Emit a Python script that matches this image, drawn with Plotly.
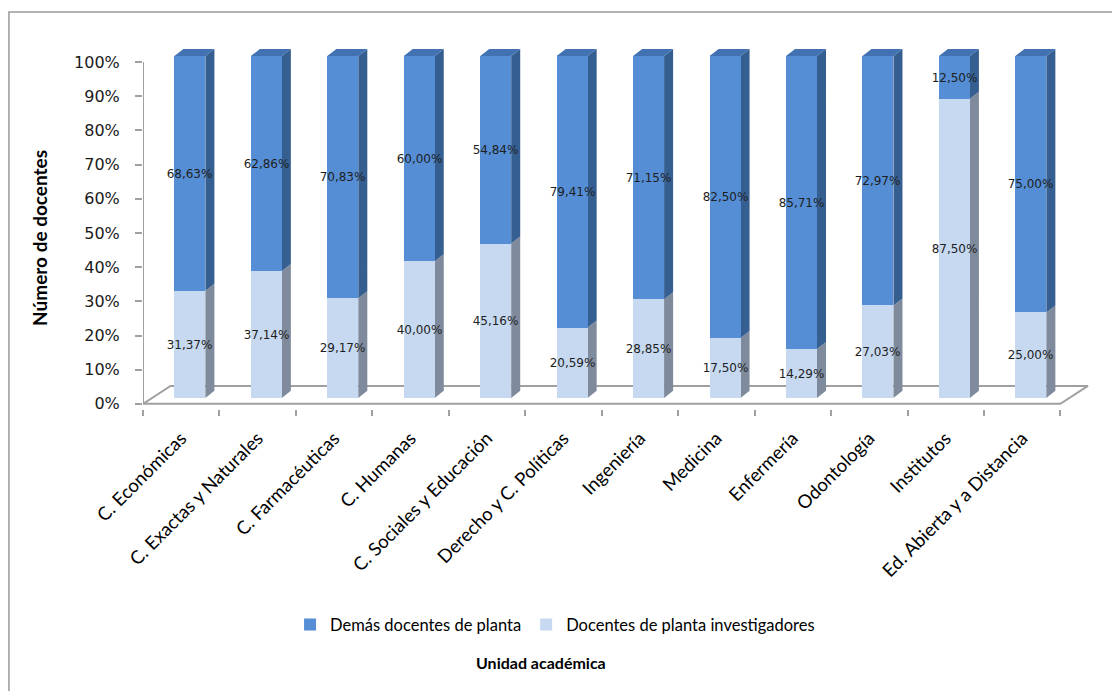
import plotly.graph_objects as go

# Datos: porcentaje de docentes de planta por unidad académica
unidades = [
    "C. Económicas", "C. Exactas y Naturales", "C. Farmacéuticas", "C. Humanas",
    "C. Sociales y Educación", "Derecho y C. Políticas", "Ingeniería", "Medicina",
    "Enfermería", "Odontología", "Institutos", "Ed. Abierta y a Distancia",
]
investigadores = [31.37, 37.14, 29.17, 40.00, 45.16, 20.59, 28.85, 17.50, 14.29, 27.03, 87.50, 25.00]
demas = [68.63, 62.86, 70.83, 60.00, 54.84, 79.41, 71.15, 82.50, 85.71, 72.97, 12.50, 75.00]
y_ticks = [0, 10, 20, 30, 40, 50, 60, 70, 80, 90, 100]
y_ticktext = [f"{v}%" for v in y_ticks]

# Geometría del efecto 3D (unidades de los ejes)
BAR_W = 0.405
BAR_OFF = -0.089
DEPTH_X = 0.118
DEPTH_Y = 2.05
FLOOR_X = 0.36
FLOOR_Y = 5.26
PX_PER_UNIT = 3.42
BAR_LIFT = 6 / PX_PER_UNIT  # las barras se apoyan un poco detrás del eje frontal

C_DARK, C_DARK_SIDE, C_DARK_TOP = "#558ED5", "#365F91", "#4272B2"
C_LIGHT, C_LIGHT_SIDE = "#C6D9F1", "#7F8B9C"
AXIS_GRAY = "#A0A0A0"

idx = list(range(len(unidades)))
n = len(unidades)


def fmt(v):
    return f"{v:.2f}".replace(".", ",") + "%"


def side_faces(lows, highs):
    xs, ys = [], []
    for i, lo, hi in zip(idx, lows, highs):
        xr = i + BAR_OFF + BAR_W
        lo, hi = lo + BAR_LIFT, hi + BAR_LIFT
        xs += [xr, xr + DEPTH_X, xr + DEPTH_X, xr, xr, None]
        ys += [lo, lo + DEPTH_Y, hi + DEPTH_Y, hi, lo, None]
    return xs, ys


def top_faces(tops):
    xs, ys = [], []
    for i, t in zip(idx, tops):
        xl = i + BAR_OFF
        xr = xl + BAR_W
        t = t + BAR_LIFT
        xs += [xl, xl + DEPTH_X, xr + DEPTH_X, xr, xl, None]
        ys += [t, t + DEPTH_Y, t + DEPTH_Y, t, t, None]
    return xs, ys


totales = [a + b for a, b in zip(investigadores, demas)]

fig = go.Figure()

# Piso y eje vertical
fig.add_trace(go.Scatter(
    x=[-0.5, -0.5, n - 0.5, n - 0.5 + FLOOR_X, -0.5 + FLOOR_X, -0.5],
    y=[100, 0, 0, FLOOR_Y, FLOOR_Y, 0],
    mode="lines", line=dict(color=AXIS_GRAY, width=2),
    showlegend=False, hoverinfo="skip", yaxis="y",
))

# Caras laterales y superiores (detrás del texto de las barras)
sx, sy = side_faces([0] * n, investigadores)
fig.add_trace(go.Scatter(x=sx, y=sy, fill="toself", fillcolor=C_LIGHT_SIDE,
                         mode="lines", line=dict(width=0, color=C_LIGHT_SIDE),
                         showlegend=False, hoverinfo="skip", yaxis="y"))
sx, sy = side_faces(investigadores, totales)
fig.add_trace(go.Scatter(x=sx, y=sy, fill="toself", fillcolor=C_DARK_SIDE,
                         mode="lines", line=dict(width=0, color=C_DARK_SIDE),
                         showlegend=False, hoverinfo="skip", yaxis="y"))
tx, ty = top_faces(totales)
fig.add_trace(go.Scatter(x=tx, y=ty, fill="toself", fillcolor=C_DARK_TOP,
                         mode="lines", line=dict(width=0, color=C_DARK_TOP),
                         showlegend=False, hoverinfo="skip", yaxis="y"))

txt_font = dict(family="DejaVu Sans", size=12, color="#1e1e1e")

fig.add_trace(go.Bar(
    x=idx, y=investigadores, width=BAR_W, offset=BAR_OFF,
    name="Docentes de planta investigadores",
    marker=dict(color=C_LIGHT, line=dict(width=0)),
    text=[fmt(v) for v in investigadores], textposition="inside", textangle=0,
    insidetextanchor="middle", constraintext="none", textfont=txt_font,
    yaxis="y2", hoverinfo="skip",
))
fig.add_trace(go.Bar(
    x=idx, y=demas, width=BAR_W, offset=BAR_OFF,
    name="Demás docentes de planta",
    marker=dict(color=C_DARK, line=dict(width=0)),
    text=[fmt(v) for v in demas], textposition="inside", textangle=0,
    insidetextanchor="middle", constraintext="none", textfont=txt_font,
    yaxis="y2", hoverinfo="skip",
))

W, H = 1112, 691
left, right_px = 143.0, 1090.6
top_px, bottom_px = 44.9, 409.1
pw, ph = right_px - left, bottom_px - top_px


def px_x(p):
    return (p - left) / pw


def px_y(p):
    return (bottom_px - p) / ph


y_range = [-1.5, 105]

fig.update_layout(
    width=W, height=H,
    margin=dict(l=left, r=W - right_px, t=top_px, b=H - bottom_px),
    paper_bgcolor="white", plot_bgcolor="white",
    barmode="stack", bargap=0,
    showlegend=True,
    legend=dict(
        orientation="h", x=px_x(290), y=px_y(625), xanchor="left", yanchor="middle",
        traceorder="reversed", font=dict(family="Lato", size=16.5, color="#000000"),
        itemwidth=30, itemclick=False, itemdoubleclick=False,
    ),
    xaxis=dict(
        range=[-0.5, n - 0.1], showline=False, showgrid=False, zeroline=False,
        tickmode="array", tickvals=idx, ticktext=unidades, ticks="",
        tickangle=-45, tickfont=dict(family="Lato", size=18.5, color="#000000"),
        ticklabelstandoff=14,
        minor=dict(tickmode="array", tickvals=[i - 0.5 for i in range(n + 1)],
                   ticks="outside", ticklen=6, tickwidth=1.5, tickcolor=AXIS_GRAY),
        fixedrange=True,
    ),
    yaxis=dict(
        range=y_range, showline=False, showgrid=False, zeroline=False,
        tickmode="array", tickvals=y_ticks, ticktext=y_ticktext,
        ticks="outside", ticklen=7, tickwidth=1.5, tickcolor=AXIS_GRAY,
        tickfont=dict(family="DejaVu Sans", size=16, color="#1a1a1a"),
        ticklabelstandoff=12, fixedrange=True,
    ),
    yaxis2=dict(
        range=[y_range[0] - BAR_LIFT, y_range[1] - BAR_LIFT], overlaying="y",
        visible=False, fixedrange=True,
    ),
    annotations=[
        dict(text="<b>Número de docentes</b>", textangle=-90, xref="paper", yref="paper",
             x=px_x(40), y=px_y(238), xanchor="center", yanchor="middle", showarrow=False,
             font=dict(family="Lato", size=19, color="#000000")),
        dict(text="<b>Unidad académica</b>", xref="paper", yref="paper",
             x=px_x(541), y=px_y(663), xanchor="center", yanchor="middle", showarrow=False,
             font=dict(family="Lato", size=16, color="#000000")),
    ],
    shapes=[
        dict(type="rect", xref="paper", yref="paper",
             x0=px_x(9), x1=px_x(1130), y0=px_y(12), y1=px_y(720),
             line=dict(color="#9A9A9A", width=1.5), fillcolor="rgba(0,0,0,0)", layer="below"),
    ],
)

fig.write_html("out.html")
